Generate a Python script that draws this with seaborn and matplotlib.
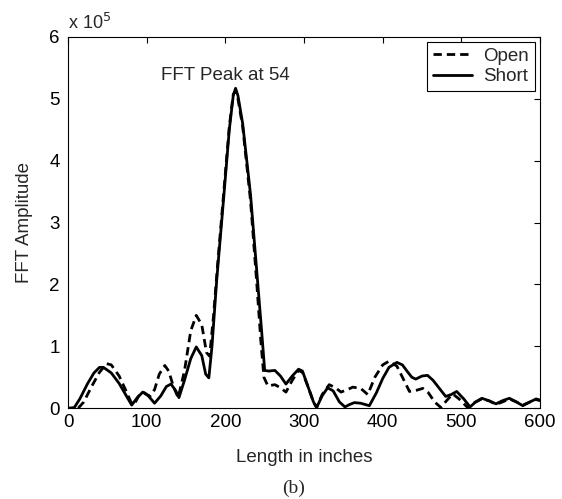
import matplotlib
matplotlib.use("Agg")
import matplotlib.pyplot as plt
import seaborn as sns
import pandas as pd

# Short-circuit termination (solid), amplitude in units of 1e5
short_x = [0, 8, 15, 25, 33, 40, 45, 55, 65, 75, 81, 88, 95, 102, 110, 118,
           125, 131, 137, 141, 148, 156, 163, 170, 175, 179, 183, 189, 198,
           205, 210, 213, 216, 222, 232, 240, 246, 250, 255, 263, 270, 277,
           285, 293, 298, 305, 312, 316, 323, 330, 337, 345, 352, 358, 364,
           372, 383, 392, 400, 408, 418, 425, 432, 437, 442, 450, 457, 464,
           472, 480, 487, 494, 503, 511, 518, 526, 535, 544, 552, 561, 570,
           578, 587, 595, 600]
short_y = [0.0, 0.01, 0.15, 0.40, 0.57, 0.66, 0.66, 0.57, 0.40, 0.18, 0.05,
           0.17, 0.26, 0.20, 0.08, 0.20, 0.35, 0.39, 0.28, 0.17, 0.45, 0.80,
           0.99, 0.85, 0.55, 0.49, 1.00, 2.07, 3.42, 4.50, 5.05, 5.17, 5.05,
           4.60, 3.45, 2.20, 1.26, 0.61, 0.60, 0.61, 0.52, 0.39, 0.52, 0.63,
           0.60, 0.35, 0.10, 0.01, 0.20, 0.33, 0.28, 0.10, 0.02, 0.06, 0.09,
           0.08, 0.04, 0.25, 0.48, 0.66, 0.74, 0.70, 0.58, 0.50, 0.47, 0.52,
           0.53, 0.45, 0.32, 0.19, 0.22, 0.27, 0.15, 0.02, 0.10, 0.16, 0.12,
           0.07, 0.12, 0.16, 0.10, 0.04, 0.10, 0.15, 0.13]

# Open-circuit termination (dashed)
open_x = [13, 20, 30, 40, 49, 55, 65, 73, 80, 84, 90, 97, 104, 110, 116,
          123, 128, 134, 140, 148, 156, 163, 170, 176, 180, 185, 190, 198,
          205, 210, 213, 216, 222, 232, 240, 245, 249, 254, 263, 270, 277,
          285, 293, 298, 305, 312, 316, 323, 332, 340, 347, 355, 362, 372,
          381, 390, 400, 408, 418, 427, 434, 443, 451, 458, 466, 474, 481,
          489, 497, 508, 515, 526, 535, 544, 552, 561, 570, 578, 587, 595,
          600]
open_y = [0.0, 0.10, 0.35, 0.58, 0.72, 0.70, 0.52, 0.30, 0.10, 0.06, 0.20,
          0.25, 0.19, 0.30, 0.55, 0.69, 0.60, 0.35, 0.17, 0.60, 1.25, 1.50,
          1.35, 0.90, 0.84, 1.50, 2.30, 3.50, 4.55, 5.07, 5.13, 5.00, 4.55,
          3.35, 2.00, 1.10, 0.50, 0.36, 0.38, 0.33, 0.26, 0.45, 0.61, 0.58,
          0.35, 0.10, 0.01, 0.22, 0.38, 0.33, 0.26, 0.30, 0.34, 0.32, 0.22,
          0.50, 0.70, 0.76, 0.68, 0.45, 0.27, 0.29, 0.32, 0.25, 0.10, 0.01,
          0.12, 0.23, 0.15, 0.01, 0.08, 0.15, 0.12, 0.06, 0.10, 0.15, 0.10,
          0.05, 0.10, 0.14, 0.12]

x_ticks = [0, 100, 200, 300, 400, 500, 600]
y_ticks = [0, 1, 2, 3, 4, 5, 6]

sns.set_theme(style="white")
plt.rcParams["font.family"] = ["Liberation Sans", "DejaVu Sans"]

DASH = (0, (3.0, 1.8))

fig = plt.figure(figsize=(5.62, 4.99), dpi=100)
ax = fig.add_axes([0.121, 0.182, 0.840, 0.744])

open_df = pd.DataFrame({"length": open_x, "amp": open_y})
short_df = pd.DataFrame({"length": short_x, "amp": short_y})

sns.lineplot(data=open_df, x="length", y="amp", ax=ax, color="black",
             linewidth=2.0, label="Open", sort=False)
ax.lines[-1].set_linestyle(DASH)
sns.lineplot(data=short_df, x="length", y="amp", ax=ax, color="black",
             linewidth=2.0, label="Short", sort=False)

ax.set_xlim(0, 600)
ax.set_ylim(0, 6)
ax.set_xticks(x_ticks)
ax.set_yticks(y_ticks)
ax.tick_params(direction="in", length=4, width=0.8, top=True, right=True,
               labelsize=13.5, colors="black")
ax.tick_params(axis="y", pad=6)
ax.tick_params(axis="x", pad=4)
for sp in ax.spines.values():
    sp.set_color("black")
    sp.set_linewidth(0.8)

ax.set_xlabel("Length in inches", fontsize=13.5, labelpad=13)
ax.set_ylabel("FFT Amplitude", fontsize=13.5, labelpad=12)

ax.text(0.0, 1.01, r"x 10$^5$", transform=ax.transAxes, fontsize=13,
        ha="left", va="bottom")
ax.text(200, 5.38, "FFT Peak at 54", fontsize=13.5, ha="center", va="center")

leg = ax.legend(loc="upper right", bbox_to_anchor=(0.989, 0.987),
                borderaxespad=0, fontsize=13.5, handlelength=2.1,
                handletextpad=0.6, labelspacing=0.2, borderpad=0.3,
                fancybox=False, framealpha=1)
leg.get_frame().set_edgecolor("black")
leg.get_frame().set_linewidth(0.8)
leg.get_lines()[0].set_linestyle(DASH)

fig.text(0.523, 0.022, "(b)", fontsize=14, ha="center", va="center",
         family=["Liberation Serif", "DejaVu Serif"])

fig.savefig("out.png", dpi=100)
